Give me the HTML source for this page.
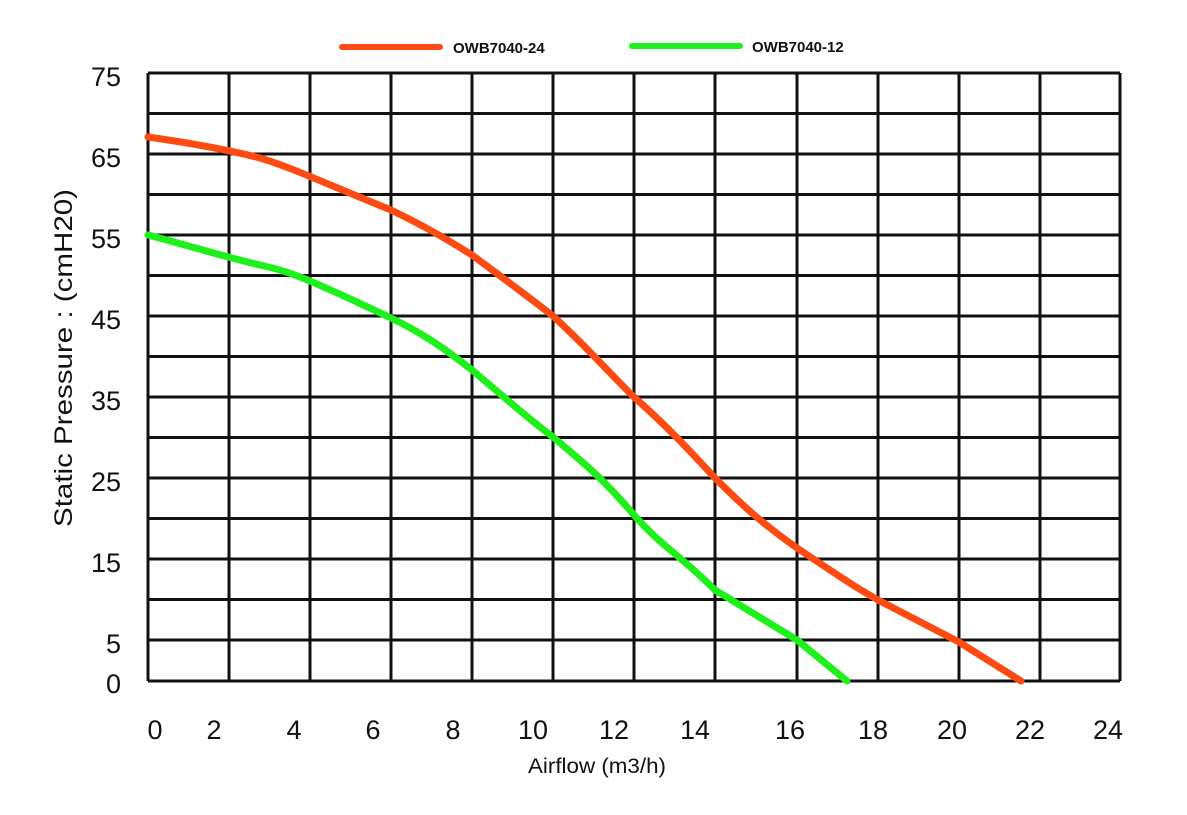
<!DOCTYPE html>
<html><head><style>
body{margin:0;background:#fff;}
svg{display:block;}
text{font-family:"Liberation Sans",sans-serif;fill:#111;}
</style></head><body>
<svg width="1187" height="815" viewBox="0 0 1187 815">
<g stroke="#111" stroke-width="3">
<line x1="148" y1="73" x2="148" y2="681"/><line x1="229" y1="73" x2="229" y2="681"/><line x1="310" y1="73" x2="310" y2="681"/><line x1="391" y1="73" x2="391" y2="681"/><line x1="472" y1="73" x2="472" y2="681"/><line x1="553" y1="73" x2="553" y2="681"/><line x1="634" y1="73" x2="634" y2="681"/><line x1="715" y1="73" x2="715" y2="681"/><line x1="797" y1="73" x2="797" y2="681"/><line x1="878" y1="73" x2="878" y2="681"/><line x1="959" y1="73" x2="959" y2="681"/><line x1="1040" y1="73" x2="1040" y2="681"/><line x1="1120" y1="73" x2="1120" y2="681"/>
<line x1="148" y1="73" x2="1120" y2="73"/><line x1="148" y1="113.5" x2="1120" y2="113.5"/><line x1="148" y1="154" x2="1120" y2="154"/><line x1="148" y1="194.5" x2="1120" y2="194.5"/><line x1="148" y1="235" x2="1120" y2="235"/><line x1="148" y1="275.5" x2="1120" y2="275.5"/><line x1="148" y1="316" x2="1120" y2="316"/><line x1="148" y1="356.5" x2="1120" y2="356.5"/><line x1="148" y1="397" x2="1120" y2="397"/><line x1="148" y1="437.5" x2="1120" y2="437.5"/><line x1="148" y1="478" x2="1120" y2="478"/><line x1="148" y1="518.5" x2="1120" y2="518.5"/><line x1="148" y1="559" x2="1120" y2="559"/><line x1="148" y1="599.5" x2="1120" y2="599.5"/><line x1="148" y1="640" x2="1120" y2="640"/><line x1="148" y1="681" x2="1120" y2="681"/>
</g>
<path d="M148,137 C190,143 229,150 260,158 C290,167 310,177 391,210 C420,224 440,235 472,255 C510,283 530,298 553,316 C590,350 610,374 634,397 C660,420 680,440 715,478 C740,503 760,522 797,548 C830,570 850,584 878,600 L959,642 L1021,681" fill="none" stroke="#ff4a12" stroke-width="7" stroke-linecap="round"/>
<path d="M148,235 C190,246 229,258 260,265 C290,272 300,275 391,318 C420,332 440,345 472,370 C510,402 530,420 553,437 C580,460 600,475 634,515 C660,545 680,555 715,590 L797,640 L847,681" fill="none" stroke="#1ef01a" stroke-width="7" stroke-linecap="round"/>
<line x1="342" y1="47" x2="440" y2="47" stroke="#ff4a12" stroke-width="6" stroke-linecap="round"/>
<text x="453" y="53" font-size="15" font-weight="bold">OWB7040-24</text>
<line x1="632" y1="46" x2="740" y2="46" stroke="#1ef01a" stroke-width="6" stroke-linecap="round"/>
<text x="752" y="52" font-size="15" font-weight="bold">OWB7040-12</text>
<g font-size="27" text-anchor="end">
<text x="121" y="86">75</text><text x="121" y="167">65</text><text x="121" y="248">55</text><text x="121" y="329">45</text><text x="121" y="410">35</text><text x="121" y="491">25</text><text x="121" y="572">15</text><text x="121" y="653">5</text><text x="121" y="693">0</text>
</g>
<g font-size="27" text-anchor="middle">
<text x="155" y="739">0</text><text x="214" y="739">2</text><text x="294" y="739">4</text><text x="373" y="739">6</text><text x="453" y="739">8</text><text x="533" y="739">10</text><text x="614" y="739">12</text><text x="695" y="739">14</text><text x="790" y="739">16</text><text x="873" y="739">18</text><text x="952" y="739">20</text><text x="1030" y="739">22</text><text x="1108" y="739">24</text>
</g>
<text x="597" y="773" font-size="21" text-anchor="middle" textLength="138" lengthAdjust="spacingAndGlyphs">Airflow (m3/h)</text>
<text transform="translate(72,358) rotate(-90)" font-size="25" text-anchor="middle" textLength="338" lengthAdjust="spacingAndGlyphs">Static Pressure : (cmH20)</text>
</svg>
</body></html>
